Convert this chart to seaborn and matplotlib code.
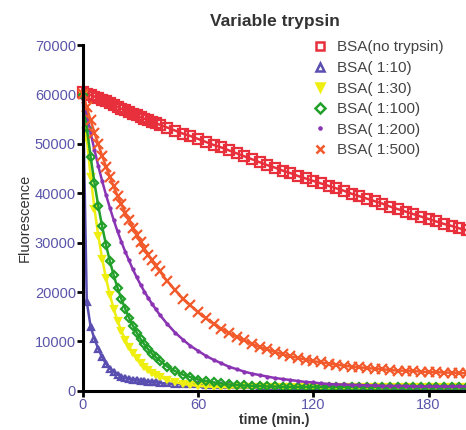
import pandas as pd
import seaborn as sns
import matplotlib.pyplot as plt
from matplotlib.lines import Line2D

OUTPUT_FILE = "out.png"

# sampling times (min.)
TIME = [0, 2, 4, 6, 8, 10, 12, 14, 16, 18, 20, 22, 24, 26, 28, 30, 32, 34, 36, 38, 40,
        44, 48, 52, 56, 60, 64, 68, 72, 76, 80, 84, 88, 92, 96, 100, 104, 108, 112, 116,
        120, 124, 128, 132, 136, 140, 144, 148, 152, 156, 160, 164, 168, 172, 176, 180,
        184, 188, 192, 196, 200]

NO_TRYPSIN = [60500, 60200, 59900, 59600, 59300, 58900, 58600, 58200, 57900, 57500, 57100,
              56800, 56400, 56100, 55800, 55400, 55100, 54800, 54500, 54200, 53900,
              53300, 52700, 52100, 51600, 51000, 50400, 49800, 49300, 48700, 48100, 47500,
              46900, 46300, 45700, 45200, 44600, 44100, 43500, 43000, 42500, 42000, 41500,
              41000, 40500, 39900, 39400, 38900, 38400, 37900, 37300, 36800, 36300, 35800,
              35300, 34800, 34300, 33800, 33400, 32900, 32500]

R_1_10 = [60000, 18000, 13000, 10500, 8500, 6800, 5500, 4500, 3800, 3300, 2900,
          2600, 2400, 2200, 2100, 2000, 1900, 1800, 1700, 1700, 1600,
          1500, 1400, 1400, 1300, 1300, 1200, 1200, 1200, 1100, 1100, 1100, 1100, 1000,
          1000, 1000, 1000, 1000, 1000, 1000, 900, 900, 900, 900, 900, 900, 900, 900, 900,
          900, 900, 900, 900, 900, 900, 900, 900, 900, 900, 900, 900]

R_1_30 = [60000, 51000, 43400, 36900, 31400, 26800, 22800, 19500, 16600, 14200, 12100,
          10400, 8900, 7700, 6600, 5700, 4900, 4300, 3700, 3200, 2800,
          2200, 1800, 1400, 1200, 1000, 900, 800, 800, 700, 700, 700, 700, 700, 700, 700,
          700, 700, 700, 700, 700, 700, 700, 700, 700, 700, 700, 700, 700, 700, 700, 700,
          700, 700, 700, 700, 700, 700, 700, 700, 700]

R_1_100 = [60000, 53300, 47400, 42100, 37400, 33300, 29600, 26300, 23400, 20900, 18600,
           16600, 14800, 13200, 11800, 10500, 9400, 8400, 7500, 6800, 6100,
           4900, 4000, 3300, 2800, 2300, 2000, 1700, 1500, 1300, 1200, 1100, 1000, 1000,
           900, 900, 800, 800, 800, 800, 800, 800, 800, 800, 800, 800, 800, 800, 800, 800,
           800, 800, 800, 800, 800, 800, 800, 800, 800, 800, 800]

R_1_200 = [60000, 56000, 52200, 48800, 45500, 42500, 39700, 37100, 34600, 32300, 30200,
           28200, 26400, 24600, 23000, 21500, 20100, 18800, 17600, 16500, 15400,
           13500, 11800, 10400, 9100, 8100, 7100, 6300, 5600, 4900, 4400, 3900, 3500, 3200,
           2900, 2600, 2400, 2200, 2000, 1800, 1700, 1500, 1400, 1300, 1300, 1200, 1200,
           1100, 1100, 1000, 1000, 1000, 1000, 900, 900, 900, 900, 900, 900, 900, 900]

R_1_500 = [60200, 57400, 54800, 52300, 49900, 47600, 45400, 43400, 41400, 39500, 37800,
           36100, 34500, 33000, 31500, 30100, 28800, 27600, 26400, 25200, 24200,
           22200, 20400, 18700, 17300, 15900, 14700, 13600, 12600, 11700, 10900, 10200,
           9500, 8900, 8400, 7900, 7400, 7000, 6700, 6300, 6000, 5800, 5500, 5300, 5100,
           4900, 4800, 4600, 4500, 4400, 4200, 4100, 4100, 4000, 3900, 3800, 3800, 3700,
           3700, 3600, 3600]

LABELS = ["BSA(no trypsin)", "BSA( 1:10)", "BSA( 1:30)", "BSA( 1:100)", "BSA( 1:200)",
          "BSA( 1:500)"]
COLORS = ["#e8303c", "#5a4fb0", "#eeee10", "#22a02a", "#8a34b4", "#f25a2c"]
MARKERS = ["s", "^", "v", "D", ".", "x"]
MARKER_SIZES = [7, 5, 5, 4, 3, 7]
TICK_BLUE = "#5a55aa"


def draw_series(ax, values, color, marker, size):
    open_marker = marker in ("s", "^", "D")
    sns.lineplot(x=TIME, y=values, ax=ax, color=color, linewidth=1.8,
                 marker=marker, markersize=size,
                 markerfacecolor="none" if open_marker else color,
                 markeredgecolor=color, markeredgewidth=1.6, clip_on=False)


def main():
    sns.set_style("ticks")
    plt.rcParams["font.family"] = ["Liberation Sans", "DejaVu Sans"]

    fig = plt.figure(figsize=(4.66, 4.30), dpi=100)
    ax = fig.add_axes([0.178, 0.091, 0.822, 0.804])

    series = [NO_TRYPSIN, R_1_10, R_1_30, R_1_100, R_1_200, R_1_500]
    for values, color, marker, size in zip(series, COLORS, MARKERS, MARKER_SIZES):
        draw_series(ax, values, color, marker, size)

    ax.set_xlim(0, 199.5)
    ax.set_ylim(0, 70000)
    ax.set_xticks([0, 60, 120, 180])
    ax.set_yticks(range(0, 70001, 10000))

    ax.spines["top"].set_visible(False)
    ax.spines["right"].set_visible(False)
    for side in ("left", "bottom"):
        ax.spines[side].set_linewidth(2.2)
        ax.spines[side].set_color("black")
    ax.tick_params(axis="both", length=4, width=2.0, color="black",
                   labelsize=10.5, labelcolor=TICK_BLUE, pad=1)

    ax.set_title("Variable trypsin", fontsize=12.5, fontweight="bold",
                 color="#333333", pad=14)
    ax.set_xlabel("time (min.)", fontsize=10, fontweight="bold", color="#333333",
                  labelpad=1)
    ax.set_ylabel("Fluorescence", fontsize=10.5, color="#333333", labelpad=2)

    handles = []
    for label, color, marker in zip(LABELS, COLORS, MARKERS):
        open_marker = marker in ("s", "^", "D")
        handles.append(Line2D([], [], linestyle="none", marker=marker,
                              markersize=5.5 if marker != "." else 3,
                              markerfacecolor="none" if open_marker else color,
                              markeredgecolor=color, markeredgewidth=1.8,
                              label=label))
    leg = ax.legend(handles=handles, loc="upper right", bbox_to_anchor=(0.965, 1.04),
                    frameon=False, fontsize=11, labelspacing=0.43,
                    handlelength=0.8, handletextpad=0.7, borderaxespad=0.2)
    for text in leg.get_texts():
        text.set_color("#444444")

    fig.savefig(OUTPUT_FILE, dpi=100)


if __name__ == "__main__":
    main()
